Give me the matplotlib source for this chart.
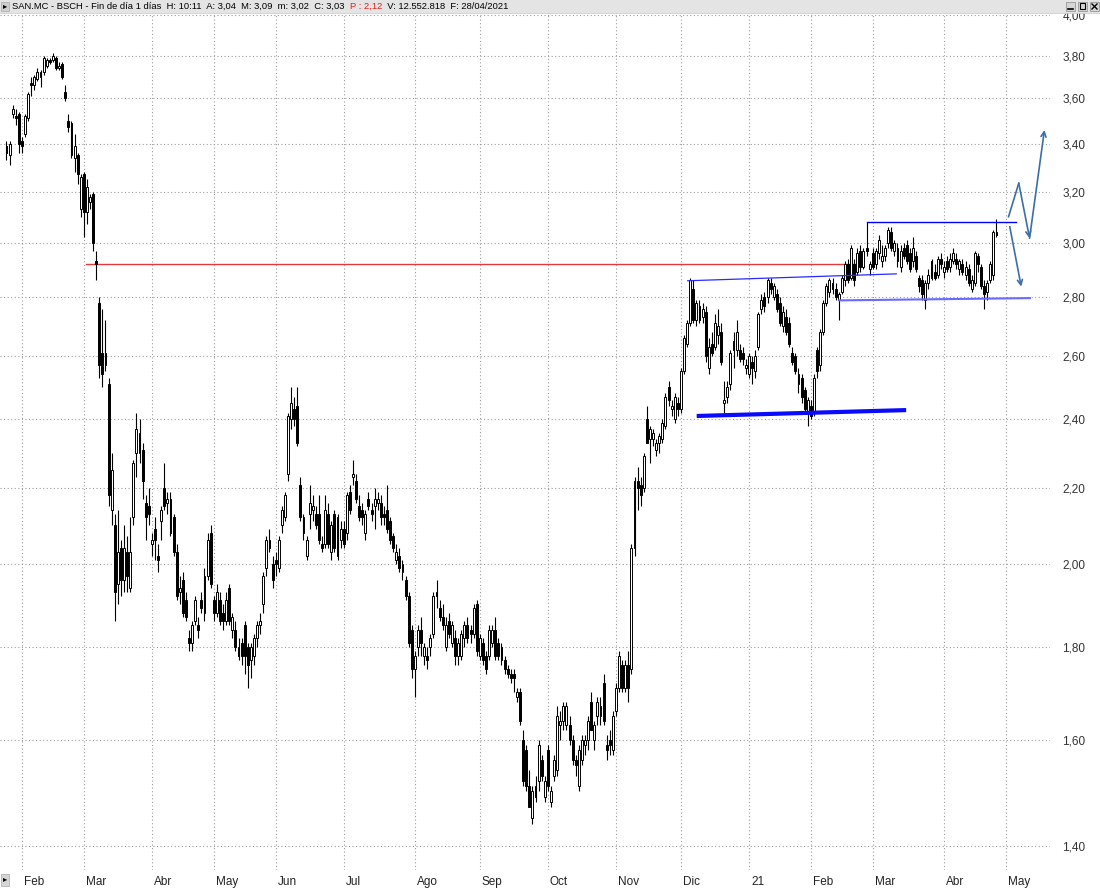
import matplotlib
matplotlib.use('Agg')
import matplotlib.pyplot as plt
import matplotlib.transforms as mtransforms
from matplotlib.patches import Rectangle
from matplotlib.lines import Line2D
from matplotlib.ticker import FixedLocator, FuncFormatter, NullLocator
import numpy as np
import pandas as pd

plt.rcParams['font.family'] = ['Liberation Sans', 'DejaVu Sans']

W, H = 1100, 888

# trading days of the Madrid exchange shown on the chart
holidays = ['2020-04-10', '2020-04-13', '2020-05-01', '2020-12-25',
            '2021-01-01', '2021-04-02', '2021-04-05']
days = pd.bdate_range('2020-01-27', '2021-05-07')
days = days[~days.isin(pd.to_datetime(holidays))]

# daily OHLC, one row per month (Jan-20 ... Apr-21)
open_ = [
    3.39, 3.35, 3.53, 3.52, 3.53,
    3.41, 3.44, 3.51, 3.67, 3.66, 3.69, 3.70, 3.72, 3.75, 3.78, 3.78, 3.79, 3.74, 3.76, 3.63, 3.50, 3.49, 3.34, 3.35, 3.13,
    3.27, 3.12, 3.16, 3.19, 2.93, 2.78, 2.61, 2.57, 2.51, 2.14, 2.10, 1.95, 2.04, 1.96, 2.03, 1.94, 2.12, 2.30, 2.30, 2.31, 2.16, 2.15,
    2.05, 2.09, 2.02, 2.11, 2.20, 2.16, 2.17, 2.12, 2.03, 1.93, 1.96, 1.91, 1.82, 1.81, 1.86, 1.85, 1.91, 1.88, 1.97, 2.08,
    1.91, 1.88, 1.91, 1.88, 1.86, 1.94, 1.84, 1.84, 1.80, 1.81, 1.85, 1.80, 1.77, 1.78, 1.82, 1.85, 1.90, 1.99, 2.06, 2.00,
    2.01, 1.99, 2.10, 2.12, 2.24, 2.40, 2.43, 2.44, 2.21, 2.08, 2.02, 2.13, 2.14, 2.13, 2.13, 2.05, 2.05, 2.13, 2.03, 2.13, 2.02, 2.06,
    2.09, 2.08, 2.19, 2.23, 2.22, 2.15, 2.14, 2.08, 2.17, 2.14, 2.15, 2.16, 2.16, 2.13, 2.14, 2.11, 2.07, 2.01, 2.02, 1.98, 1.96, 1.92, 1.84,
    1.75, 1.80, 1.84, 1.78, 1.78, 1.80, 1.83, 1.93, 1.89, 1.87, 1.80, 1.86, 1.81, 1.82, 1.78, 1.78, 1.82, 1.85, 1.84, 1.83, 1.90,
    1.78, 1.81, 1.78, 1.78, 1.81, 1.84, 1.81, 1.80, 1.77, 1.75, 1.74, 1.74, 1.69, 1.70, 1.60, 1.58, 1.51, 1.45, 1.51, 1.52, 1.56, 1.49,
    1.58, 1.48, 1.53, 1.54, 1.63, 1.64, 1.63, 1.63, 1.60, 1.56, 1.51, 1.56, 1.59, 1.60, 1.68, 1.60, 1.65, 1.65, 1.72, 1.59, 1.60, 1.58,
    1.66, 1.71, 1.76, 1.71, 1.76, 1.75, 2.04, 2.22, 2.21, 2.20, 2.40, 2.34, 2.34, 2.31, 2.33, 2.34, 2.38, 2.50, 2.43, 2.40, 2.45,
    2.43, 2.55, 2.64, 2.71, 2.83, 2.72, 2.77, 2.73, 2.75, 2.56, 2.64, 2.63, 2.67, 2.68, 2.45, 2.47, 2.51, 2.62, 2.62, 2.62, 2.61, 2.56,
    2.54, 2.58, 2.55, 2.63, 2.76, 2.80, 2.80, 2.85, 2.80, 2.81, 2.78, 2.70, 2.73, 2.71, 2.61, 2.60, 2.51, 2.53, 2.49, 2.42,
    2.44, 2.42, 2.62, 2.57, 2.68, 2.78, 2.82, 2.85, 2.83, 2.79, 2.82, 2.86, 2.92, 2.87, 2.92, 2.89, 2.97, 2.91, 2.98, 2.90,
    2.96, 2.92, 2.96, 2.93, 2.95, 3.00, 3.04, 2.97, 2.98, 2.91, 2.98, 2.99, 2.96, 2.93, 2.95, 2.87, 2.86, 2.79, 2.85, 2.87, 2.89, 2.88, 2.94,
    2.89, 2.93, 2.91, 2.93, 2.94, 2.90, 2.92, 2.88, 2.90, 2.83, 2.85, 2.95, 2.91, 2.84, 2.82, 2.86, 2.88, 3.04,
]
high = [
    3.41, 3.41, 3.57, 3.55, 3.54,
    3.43, 3.53, 3.63, 3.70, 3.71, 3.74, 3.73, 3.80, 3.79, 3.79, 3.81, 3.80, 3.77, 3.77, 3.66, 3.53, 3.50, 3.44, 3.36, 3.27,
    3.28, 3.25, 3.19, 3.20, 2.97, 2.80, 2.76, 2.72, 2.53, 2.30, 2.13, 2.14, 2.06, 2.10, 2.07, 2.12, 2.28, 2.42, 2.40, 2.33, 2.18, 2.20,
    2.08, 2.12, 2.05, 2.15, 2.27, 2.19, 2.19, 2.13, 2.05, 1.97, 1.98, 1.93, 1.84, 1.86, 1.92, 1.87, 1.93, 1.99, 2.08, 2.10,
    1.92, 1.95, 1.93, 1.90, 1.93, 1.95, 1.88, 1.86, 1.82, 1.82, 1.86, 1.81, 1.81, 1.83, 1.86, 1.88, 1.98, 2.07, 2.09, 2.02,
    2.03, 2.07, 2.15, 2.19, 2.42, 2.50, 2.47, 2.50, 2.23, 2.13, 2.07, 2.21, 2.18, 2.15, 2.18, 2.07, 2.18, 2.16, 2.11, 2.14, 2.13, 2.11,
    2.11, 2.19, 2.21, 2.28, 2.24, 2.18, 2.16, 2.14, 2.19, 2.16, 2.20, 2.19, 2.18, 2.15, 2.21, 2.12, 2.08, 2.05, 2.04, 2.01, 1.97, 1.93, 1.85,
    1.79, 1.85, 1.87, 1.81, 1.80, 1.83, 1.93, 1.96, 1.91, 1.90, 1.87, 1.88, 1.86, 1.84, 1.82, 1.84, 1.86, 1.87, 1.85, 1.90, 1.91,
    1.83, 1.82, 1.79, 1.85, 1.85, 1.87, 1.82, 1.81, 1.78, 1.76, 1.75, 1.75, 1.71, 1.71, 1.62, 1.59, 1.54, 1.51, 1.53, 1.60, 1.57, 1.53,
    1.59, 1.51, 1.57, 1.67, 1.66, 1.68, 1.68, 1.65, 1.61, 1.57, 1.59, 1.61, 1.61, 1.65, 1.70, 1.64, 1.69, 1.69, 1.74, 1.61, 1.62, 1.66,
    1.72, 1.79, 1.77, 1.77, 1.79, 2.05, 2.23, 2.26, 2.23, 2.30, 2.44, 2.38, 2.37, 2.34, 2.36, 2.40, 2.48, 2.52, 2.46, 2.48, 2.47,
    2.56, 2.67, 2.72, 2.87, 2.86, 2.79, 2.79, 2.78, 2.77, 2.66, 2.68, 2.74, 2.76, 2.71, 2.52, 2.52, 2.62, 2.68, 2.72, 2.64, 2.63, 2.59,
    2.61, 2.60, 2.62, 2.75, 2.81, 2.82, 2.87, 2.87, 2.85, 2.83, 2.80, 2.77, 2.76, 2.73, 2.63, 2.61, 2.56, 2.54, 2.50, 2.47,
    2.46, 2.54, 2.63, 2.69, 2.79, 2.85, 2.87, 2.87, 2.85, 2.82, 2.88, 2.93, 2.94, 2.99, 2.94, 2.98, 2.99, 2.98, 3.08, 2.93,
    2.98, 2.98, 3.03, 2.99, 2.99, 3.06, 3.06, 3.01, 3.00, 2.99, 3.00, 3.01, 2.98, 3.02, 2.97, 2.88, 2.88, 2.86, 2.90, 2.94, 2.92, 2.95, 2.96,
    2.93, 2.95, 2.96, 2.98, 2.96, 2.94, 2.94, 2.93, 2.92, 2.88, 2.97, 2.96, 2.92, 2.86, 2.86, 2.93, 3.05, 3.09,
]
low = [
    3.33, 3.31, 3.51, 3.48, 3.36,
    3.36, 3.43, 3.50, 3.61, 3.64, 3.68, 3.65, 3.71, 3.74, 3.76, 3.77, 3.73, 3.73, 3.69, 3.59, 3.45, 3.34, 3.28, 3.23, 3.10,
    3.02, 3.07, 3.13, 2.97, 2.86, 2.53, 2.50, 2.55, 2.15, 2.10, 1.86, 1.90, 1.92, 1.93, 1.93, 1.93, 2.10, 2.23, 2.27, 2.17, 2.06, 2.10,
    2.02, 2.01, 1.98, 2.06, 2.14, 2.13, 2.07, 2.02, 1.91, 1.90, 1.87, 1.86, 1.79, 1.79, 1.85, 1.82, 1.88, 1.86, 1.96, 1.94,
    1.86, 1.87, 1.85, 1.84, 1.85, 1.85, 1.82, 1.79, 1.77, 1.76, 1.74, 1.71, 1.73, 1.76, 1.80, 1.83, 1.88, 1.97, 2.03, 1.94,
    1.97, 1.98, 2.08, 2.11, 2.22, 2.37, 2.38, 2.32, 2.11, 2.06, 2.01, 2.09, 2.11, 2.09, 2.05, 2.03, 2.04, 2.04, 2.01, 2.03, 2.01, 2.04,
    2.04, 2.06, 2.13, 2.21, 2.16, 2.11, 2.10, 2.06, 2.14, 2.11, 2.09, 2.14, 2.10, 2.10, 2.08, 2.05, 2.03, 2.00, 1.98, 1.96, 1.91, 1.80, 1.73,
    1.69, 1.78, 1.78, 1.76, 1.75, 1.78, 1.82, 1.89, 1.86, 1.84, 1.79, 1.82, 1.80, 1.76, 1.76, 1.77, 1.80, 1.81, 1.81, 1.82, 1.78,
    1.77, 1.76, 1.74, 1.77, 1.80, 1.77, 1.77, 1.76, 1.74, 1.73, 1.72, 1.70, 1.68, 1.63, 1.51, 1.50, 1.47, 1.44, 1.48, 1.50, 1.52, 1.48,
    1.50, 1.47, 1.52, 1.53, 1.60, 1.62, 1.62, 1.59, 1.55, 1.53, 1.50, 1.55, 1.57, 1.58, 1.62, 1.58, 1.63, 1.63, 1.63, 1.56, 1.57, 1.57,
    1.65, 1.70, 1.70, 1.70, 1.68, 1.74, 2.02, 2.14, 2.15, 2.19, 2.33, 2.27, 2.32, 2.29, 2.30, 2.33, 2.37, 2.44, 2.41, 2.39, 2.41,
    2.42, 2.54, 2.63, 2.70, 2.71, 2.70, 2.71, 2.71, 2.58, 2.54, 2.60, 2.62, 2.64, 2.57, 2.41, 2.45, 2.49, 2.56, 2.60, 2.58, 2.57, 2.54,
    2.53, 2.51, 2.53, 2.62, 2.74, 2.75, 2.78, 2.81, 2.79, 2.75, 2.70, 2.68, 2.67, 2.63, 2.57, 2.54, 2.48, 2.45, 2.42, 2.38,
    2.40, 2.41, 2.53, 2.55, 2.67, 2.77, 2.80, 2.81, 2.79, 2.72, 2.81, 2.84, 2.85, 2.86, 2.84, 2.88, 2.89, 2.90, 2.95, 2.88,
    2.90, 2.90, 2.94, 2.91, 2.93, 2.98, 2.97, 2.95, 2.91, 2.89, 2.94, 2.92, 2.89, 2.91, 2.89, 2.82, 2.79, 2.76, 2.83, 2.86, 2.86, 2.87, 2.90,
    2.87, 2.89, 2.89, 2.92, 2.90, 2.88, 2.88, 2.86, 2.84, 2.82, 2.84, 2.89, 2.83, 2.76, 2.79, 2.85, 2.86, 3.02,
]
close = [
    3.36, 3.40, 3.55, 3.51, 3.40,
    3.39, 3.52, 3.62, 3.66, 3.70, 3.72, 3.72, 3.79, 3.78, 3.77, 3.80, 3.74, 3.75, 3.70, 3.60, 3.47, 3.35, 3.39, 3.27, 3.26,
    3.12, 3.22, 3.18, 3.00, 2.92, 2.57, 2.54, 2.61, 2.18, 2.25, 1.93, 2.03, 1.96, 2.04, 1.97, 2.03, 2.27, 2.37, 2.36, 2.22, 2.12, 2.13,
    2.06, 2.06, 2.01, 2.14, 2.15, 2.17, 2.08, 2.03, 1.92, 1.94, 1.88, 1.87, 1.81, 1.85, 1.91, 1.84, 1.89, 1.97, 2.06, 1.95,
    1.88, 1.93, 1.86, 1.86, 1.91, 1.86, 1.87, 1.80, 1.78, 1.78, 1.78, 1.76, 1.80, 1.82, 1.85, 1.86, 1.97, 2.06, 2.04, 1.96,
    2.00, 2.06, 2.14, 2.18, 2.41, 2.45, 2.40, 2.33, 2.12, 2.12, 2.06, 2.16, 2.15, 2.10, 2.06, 2.04, 2.14, 2.05, 2.10, 2.04, 2.12, 2.09,
    2.05, 2.18, 2.14, 2.24, 2.17, 2.12, 2.12, 2.13, 2.15, 2.13, 2.17, 2.17, 2.12, 2.12, 2.09, 2.06, 2.04, 2.03, 1.99, 2.00, 1.92, 1.81, 1.75,
    1.78, 1.84, 1.81, 1.80, 1.77, 1.82, 1.92, 1.92, 1.87, 1.85, 1.85, 1.83, 1.85, 1.78, 1.81, 1.83, 1.85, 1.82, 1.83, 1.89, 1.79,
    1.82, 1.77, 1.75, 1.84, 1.84, 1.78, 1.78, 1.77, 1.75, 1.74, 1.73, 1.73, 1.70, 1.64, 1.52, 1.51, 1.47, 1.50, 1.49, 1.59, 1.53, 1.52,
    1.51, 1.50, 1.56, 1.65, 1.64, 1.67, 1.67, 1.60, 1.56, 1.55, 1.58, 1.60, 1.60, 1.64, 1.62, 1.63, 1.68, 1.67, 1.64, 1.58, 1.59, 1.65,
    1.71, 1.78, 1.71, 1.76, 1.71, 2.04, 2.22, 2.20, 2.18, 2.29, 2.33, 2.37, 2.36, 2.33, 2.35, 2.39, 2.47, 2.46, 2.44, 2.47, 2.43,
    2.55, 2.66, 2.71, 2.86, 2.72, 2.78, 2.72, 2.76, 2.60, 2.63, 2.61, 2.71, 2.70, 2.58, 2.46, 2.50, 2.61, 2.65, 2.68, 2.59, 2.59, 2.57,
    2.60, 2.56, 2.60, 2.74, 2.79, 2.77, 2.86, 2.83, 2.84, 2.76, 2.71, 2.75, 2.68, 2.64, 2.58, 2.55, 2.54, 2.47, 2.43, 2.46,
    2.41, 2.53, 2.55, 2.68, 2.78, 2.84, 2.86, 2.83, 2.80, 2.81, 2.87, 2.92, 2.86, 2.98, 2.86, 2.96, 2.91, 2.97, 2.97, 2.92,
    2.91, 2.97, 3.01, 2.95, 2.98, 3.05, 2.98, 3.00, 2.93, 2.97, 2.95, 2.93, 2.90, 2.98, 2.90, 2.84, 2.81, 2.85, 2.88, 2.93, 2.87, 2.94, 2.92,
    2.91, 2.90, 2.94, 2.96, 2.92, 2.93, 2.89, 2.91, 2.85, 2.86, 2.96, 2.92, 2.84, 2.81, 2.85, 2.92, 3.04, 3.03,
]

month_labels = ['Feb', 'Mar', 'Abr', 'May', 'Jun', 'Jul', 'Ago', 'Sep',
                'Oct', 'Nov', 'Dic', '21', 'Feb', 'Mar', 'Abr', 'May']
price_ticks = [1.40, 1.60, 1.80, 2.00, 2.20, 2.40, 2.60, 2.80,
               3.00, 3.20, 3.40, 3.60, 3.80, 4.00]

# drawn lines: (bar index pair, price pair)
red_line = ([25.6, 274.8], [2.92, 2.92])
channel_top = ([220.2, 287.6], [2.859, 2.884])
range_top = ([278.3, 326.2], [3.078, 3.078])
range_bottom = ([269.2, 330.8], [2.789, 2.797])
support = ([223.1, 290.8], [2.410, 2.428])
zigzag = ([323.9, 327.2, 330.7, 335.5], [3.10, 3.234, 3.017, 3.459])
down_arrow = ([324.3, 328.0], [3.061, 2.838])

fig = plt.figure(figsize=(W / 100, H / 100), dpi=100)
fig.patch.set_facecolor('white')
ax = fig.add_axes([0, 18 / H, 1050 / W, 858 / H])

o, h, l, c = (np.array(v) for v in (open_, high, low, close))
x = np.arange(len(c))
up = c >= o
lo = np.minimum(o, c)
hi = np.maximum(o, c)

ax.vlines(x, l, h, color='black', lw=0.8, zorder=3)
ax.bar(x[up], hi[up] - lo[up], bottom=lo[up], width=0.62,
       color='white', edgecolor='black', lw=0.7, zorder=4)
ax.bar(x[~up], hi[~up] - lo[~up], bottom=lo[~up], width=0.62,
       color='black', edgecolor='black', lw=0.7, zorder=4)

# trend lines
ax.plot(*red_line, color='#e2393b', lw=1.0, zorder=2)
ax.plot(*channel_top, color='#2a2aff', lw=0.9, zorder=5)
ax.plot(*range_top, color='#0000ff', lw=1.0, zorder=5)
ax.plot(*range_bottom, color='#6a6aff', lw=1.5, zorder=5)
ax.plot(*support, color='#0a0aff', lw=3.0, solid_capstyle='butt', zorder=5)

arrow_col = '#3b6fa6'
ax.plot(zigzag[0][:2], zigzag[1][:2], color=arrow_col, lw=1.2, zorder=6)
for k in (1, 2):
    ax.annotate('', xy=(zigzag[0][k + 1], zigzag[1][k + 1]),
                xytext=(zigzag[0][k], zigzag[1][k]),
                arrowprops=dict(arrowstyle='->', color=arrow_col, lw=1.2,
                                shrinkA=0, shrinkB=0, mutation_scale=9), zorder=6)
ax.annotate('', xy=(down_arrow[0][1], down_arrow[1][1]),
            xytext=(down_arrow[0][0], down_arrow[1][0]),
            arrowprops=dict(arrowstyle='->', color=arrow_col, lw=1.2,
                            shrinkA=0, shrinkB=0, mutation_scale=9), zorder=6)

ax.set_yscale('log')
ax.set_ylim(1.358, 4.015)
ax.set_xlim(-2.1, 337.3)
ax.yaxis.set_major_locator(FixedLocator(price_ticks))
ax.yaxis.set_minor_locator(NullLocator())
ax.yaxis.set_major_formatter(FuncFormatter(lambda v, p: f'{v:.2f}'.replace('.', ',')))
ax.yaxis.tick_right()
ax.tick_params(axis='y', length=0, pad=9, labelsize=8.5, labelcolor='#333333')

starts = [i for i in range(1, len(days)) if days[i].month != days[i - 1].month]
ax.set_xticks(starts)
ax.set_xticklabels(month_labels)
ax.tick_params(axis='x', length=0, pad=4, labelsize=8.5, labelcolor='#222222')
off = mtransforms.ScaledTranslation(2 / 100, 0, fig.dpi_scale_trans)
for t in ax.get_xticklabels():
    t.set_horizontalalignment('left')
    t.set_transform(t.get_transform() + off)

ax.grid(True, which='major', linestyle=(0, (1, 2.2)), color='#9c9c9c', lw=0.8)
ax.set_axisbelow(True)
for s in ax.spines.values():
    s.set_visible(False)

# title bar
fig.add_artist(Rectangle((0, 1 - 13 / H), 1, 13 / H, transform=fig.transFigure,
                         facecolor='#e4e4e4', edgecolor='none', zorder=10))
fig.add_artist(Line2D([0, 1], [1 - 13 / H, 1 - 13 / H], transform=fig.transFigure,
                      color='#cfcfcf', lw=0.6, zorder=11))
fig.add_artist(Rectangle((1 / W, 1 - 11 / H), 8 / W, 9 / H, transform=fig.transFigure,
                         facecolor='#cfcfcf', edgecolor='#a8a8a8', lw=0.5, zorder=11))
fig.text(5 / W, 1 - 6.5 / H, '▸', fontsize=6, ha='center', va='center', zorder=12)

ty = 1 - 6.5 / H
parts = [('SAN.MC - BSCH - Fin de día 1 días  H: 10:11  A: 3,04  M: 3,09  m: 3,02  C: 3,03  ', 'black'),
         ('P : 2,12', '#e02020'),
         ('  V: 12.552.818  F: 28/04/2021', 'black')]
fig.canvas.draw()
xpos = 12
for txt, col in parts:
    t = fig.text(xpos / W, ty, txt, fontsize=6.75, color=col, va='center', ha='left', zorder=12)
    bb = t.get_window_extent(renderer=fig.canvas.get_renderer())
    xpos = bb.x1

# window buttons
for bx in (1066, 1078, 1090):
    fig.add_artist(Rectangle((bx / W, 1 - 11 / H), 9 / W, 9 / H, transform=fig.transFigure,
                             facecolor='#d6d6d6', edgecolor='#8a8a8a', lw=0.5, zorder=11))
fig.add_artist(Line2D([1068 / W, 1073 / W], [1 - 9 / H, 1 - 9 / H], transform=fig.transFigure,
                      color='black', lw=1.2, zorder=12))
fig.add_artist(Rectangle((1080 / W, 1 - 9.5 / H), 5 / W, 6 / H, transform=fig.transFigure,
                         facecolor='none', edgecolor='black', lw=0.8, zorder=12))
fig.add_artist(Line2D([1092 / W, 1097 / W], [1 - 9 / H, 1 - 4 / H], transform=fig.transFigure,
                      color='black', lw=1.0, zorder=12))
fig.add_artist(Line2D([1092 / W, 1097 / W], [1 - 4 / H, 1 - 9 / H], transform=fig.transFigure,
                      color='black', lw=1.0, zorder=12))

# bottom-left scroll marker
fig.add_artist(Rectangle((1 / W, 1 - 886 / H), 8 / W, 12 / H, transform=fig.transFigure,
                         facecolor='#d6d6d6', edgecolor='#a8a8a8', lw=0.5, zorder=11))
fig.text(5 / W, 1 - 880 / H, '▸', fontsize=6, ha='center', va='center', zorder=12)

fig.savefig('out.png', dpi=100)
